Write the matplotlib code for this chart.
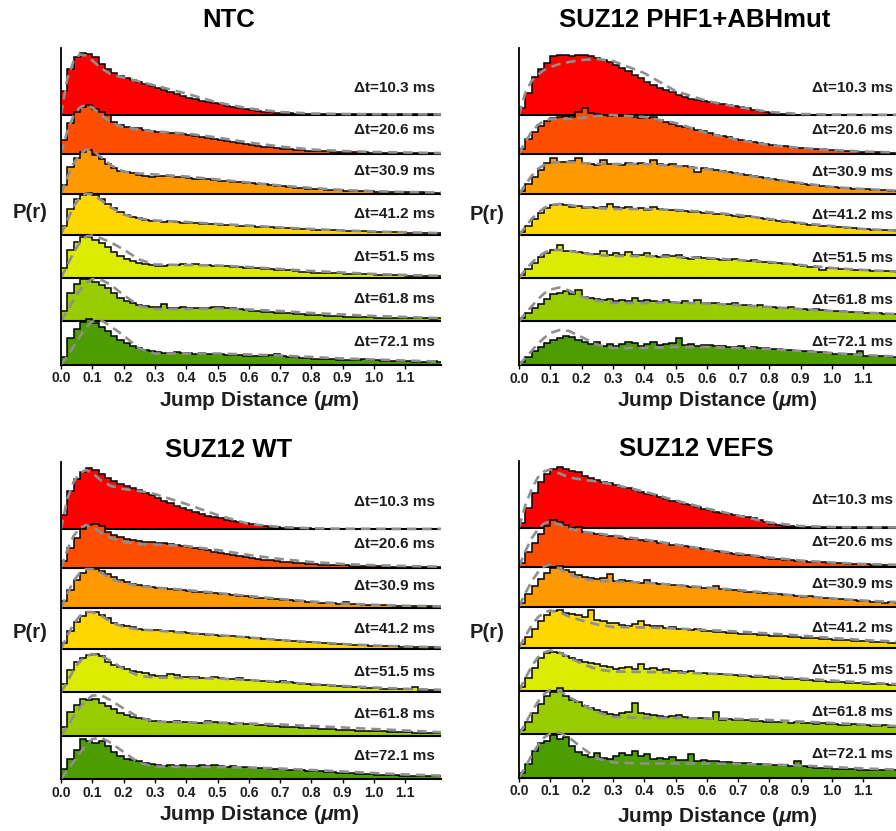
import numpy as np
import matplotlib
matplotlib.use('Agg')
import matplotlib.pyplot as plt

plt.rcParams['font.family'] = ['Liberation Sans', 'DejaVu Sans']
plt.rcParams['mathtext.fontset'] = 'custom'
plt.rcParams['mathtext.it'] = 'Liberation Sans:italic:bold'
plt.rcParams['mathtext.rm'] = 'Liberation Sans:bold'

# ---------------- data ----------------
TITLES = ['NTC', 'SUZ12 PHF1+ABHmut', 'SUZ12 WT', 'SUZ12 VEFS']
DT_LABELS = ['Δt=10.3 ms', 'Δt=20.6 ms', 'Δt=30.9 ms', 'Δt=41.2 ms',
             'Δt=51.5 ms', 'Δt=61.8 ms', 'Δt=72.1 ms']
XTICKS = [0.0, 0.1, 0.2, 0.3, 0.4, 0.5, 0.6, 0.7, 0.8, 0.9, 1.0, 1.1]
XTICK_LABELS = ['0.0', '0.1', '0.2', '0.3', '0.4', '0.5', '0.6', '0.7', '0.8', '0.9', '1.0', '1.1']
BIN_WIDTH = 0.02          # um, 63 bins from 0 to 1.26
FIT_X = [0, 0.02, 0.04, 0.06, 0.08, 0.1, 0.13, 0.16, 0.2, 0.25, 0.3,
         0.4, 0.5, 0.6, 0.7, 0.8, 0.9, 1.0, 1.1, 1.2, 1.26]

NTC_HIST = [
    [24,46,58,62,61,58,51,46,42,39, 37,35,33,31,29,27,25,23,21,19, 17,16,14,13,12,11,9,8,7,6,
     5,4,3,3,2,2,1.5,1,1,1, 0.5,0.5,0.5,0.5,0.5,0.5,0.5,0.5,0.5,0.5, 0.3,0.3,0.3,0.3,0.3,0.3,0.3,0.3,0.3,0.3, 0.3,0.3,0.3],
    [14,31,42,47,49,45,42,39,32,29, 27,26,26,24,23,22,22,21,21,20, 19,18,17,16,15,14,13,12,11,10,
     9,8,7,7,6,5,5,4,4,3, 3,2.5,2.5,2,2,2,1.5,1.5,1.5,1, 1,1,1,1,0.7,0.7,0.5,0.5,0.5,0.5, 0.3,0.3,0.3],
    [9,27,36,42,44,39,35,30,26,23, 22,21,19,18,17,18,18,18,17,17, 16,15,15,15,14,13,13,12,12,11,
     11,10,10,9,8,8,7,6,6,5, 5,4.5,4,3.5,3.5,3,3,2.7,2.5,2.3, 2,2,1.8,1.7,1.5,1.3,1.2,1.1,1,1, 0.9,0.8,0.8],
    [9,26,36,40,42,40,36,31,27,23, 20,18,17,15,14,14,13,14,13,12, 12,12,11,11,11,10,10,10,9,9,
     9,8,8,8,7,7,7,6,6,6, 5,5,5,4.5,4.5,4,4,3.5,3.5,3, 3,3,2.7,2.5,2.3,2,2,1.8,1.7,1.5, 1.4,1.3,1.2],
    [10,28,36,41,41,38,35,31,26,22, 19,17,15,14,13,12,12,13,13,14, 13,14,13,13,12,12,12,11,11,10,
     10,10,9,9,8,8,8,7,6,6, 5,5,5,4.5,4.5,4,4,4,3.5,3.5, 3,3,3,2.5,2.5,2,2,2,2,1.7, 1.5,1.5,1.5],
    [10,28,37,42,42,39,36,33,28,23, 20,18,16,15,14,14,17,13,13,14, 13,13,13,13,14,14,13,13,12,11,
     10,10,9,9,8,8,8,7,7,6, 6,6,5,5,5,4.5,4,4,4,4, 3.5,3.5,3.5,3,3,3,3,2.7,2.7,2.5, 3,2.5,2.5],
    [8,27,36,43,46,42,38,34,29,25, 22,19,17,15,14,13,12,12,13,12, 12,11,12,11,11,11,10,10,10,9,
     9,9,9,10,11,9,8,8,7,7, 6,6,6,6,5,5,5,5,6,5, 5,4,4,4,3.5,3.5,3,3,3,4, 3,3,3],
]
PHF1_HIST = [
    [7,22,38,46,52,59,60,60,59,60, 60,59,57,55,53,50,47,44,40,37, 33,30,27,25,23,20,18,16,15,14,
     13,12,11,10,9,8,7,5,4,3, 2,1.5,1,0.8,0.5,0.4,0.3,0.3,0.3,0.3, 0.2,0.2,0.2,0.2,0.2,0.2,0.2,0.2,0.2,0.2, 0.2,0.2,0.2],
    [5,15,22,28,33,36,37,38,37,42, 46,41,40,39,38,39,38,39,37,36, 36,37,34,32,30,28,27,26,24,23,
     21,19,18,17,15,14,13,12,11,10, 9,8,8,7,6,6,5,5,5,4, 4,3.5,3,3,2.5,2.3,2,1.8,1.5,1.3, 1.2,1,1],
    [3,10,17,24,31,36,32,32,33,36, 31,30,29,34,30,30,29,31,30,31, 30,34,30,29,30,28,28,27,22,26,
     25,24,23,22,21,20,19,18,17,16, 15,14,13,12,11,10,9,9,8,7, 7,6,6,5,5,4.5,4,4,3.5,3, 3,2.7,2.5],
    [3,9,16,22,27,30,31,30,28,29, 27,28,27,28,31,28,27,28,26,27, 25,28,26,25,25,24,24,23,23,22,
     22,21,21,20,19,18,19,18,17,16, 15,14,13,13,12,11,10,10,9,9, 8,8,7,7,6,6,5,5,5,4.5, 4,4,3.5],
    [3,9,15,21,25,28,33,27,27,26, 25,24,24,27,23,25,23,26,23,23, 25,22,21,23,22,23,20,19,21,20,
     19,19,18,18,19,18,17,18,16,16, 15,15,14,14,13,12,11,11,8,10, 10,9,9,8,8,8,7,7,7,7, 6,6,6],
    [3,8,13,17,22,27,28,30,27,31, 24,23,22,21,22,20,21,20,23,20, 21,20,19,21,19,18,20,18,21,18,
     18,18,17,17,18,16,16,15,16,14, 14,13,13,14,12,12,11,12,11,10, 10,10,9,9,9,8,8,8,7,7, 7,7,6],
    [3,8,14,18,22,25,27,29,28,25, 23,21,23,19,21,19,21,23,22,19, 21,23,20,21,22,27,20,21,19,20,
     20,19,19,18,18,19,17,18,17,17, 16,16,15,15,14,14,14,13,13,12, 11,11,11,11,14,9,9,9,9,8, 8,8,8],
]
WT_HIST = [
    [14,38,50,57,61,59,55,51,48,45, 43,41,39,36,34,31,28,26,23,21, 19,17,15,13,12,11,9,8,7,6,
     5,4,3,2.5,2,1.5,1,1,0.8,0.7, 0.5,0.5,0.5,0.4,0.4,0.3,0.3,0.3,0.3,0.3, 0.2,0.2,0.2,0.2,0.2,0.2,0.2,0.2,0.2,0.2, 0.2,0.2,0.2],
    [7,20,30,39,43,44,42,36,33,31, 29,28,27,26,26,25,25,24,23,22, 21,20,19,18,16,15,14,13,12,11,
     10,9,8,8,7,6,6,5,5,4.5, 4,3.5,3.5,3,3,2.7,2.5,2.3,2,2, 1.8,1.7,1.5,1.4,1.3,1.2,1.1,1,1,0.9, 0.8,0.8,0.7],
    [7,18,28,35,39,39,37,34,31,28, 26,24,23,22,21,20,20,19,18,18, 17,16,16,15,15,14,14,13,12,12,
     11,10,10,9,9,8,8,7,7,6, 6,5.5,5,5,4.5,6,4,3.7,3.5,3.3, 3,2.8,2.6,2.5,2.3,2.2,2,2,1.8,1.7, 1.6,1.5,1.5],
    [6,18,27,33,37,37,34,31,26,24, 23,22,20,19,19,19,18,18,17,17, 16,15,15,14,14,13,13,13,12,12,
     11,11,10,10,9,9,8,8,7,7, 7,6,6,5,5,5,4.5,4,4,3.5, 3.3,3,3,2.7,2.5,2.3,2.2,2,2,1.8, 1.7,1.6,1.5],
    [8,22,30,34,37,38,36,30,27,25, 23,21,20,19,17,16,16,18,17,15, 15,15,14,14,15,14,13,13,14,12,
     12,11,11,10,10,11,10,9,8,8, 7,7,7,6,6,5,5,5,4.5,4, 4,3.5,3.5,3,3,3,5,2.5,2.5,2, 2,2,2],
    [9,24,31,37,36,37,33,30,27,23, 21,19,18,17,15,15,14,14,15,14, 14,13,13,15,14,13,13,12,13,12,
     12,11,11,10,10,9,9,9,8,8, 8,7,7,7,6,6,6,5,5,5, 4.5,4.5,4,4,3.5,3.5,3,3,3,3, 2.7,2.5,2.5],
    [10,20,29,40,38,36,38,33,27,23, 20,19,18,16,15,14,13,14,13,14, 13,13,14,13,14,13,12,13,12,12,
     11,11,11,10,10,10,9,9,9,8, 8,8,7,7,6,6,6,5,5,5, 4.5,4.5,4,4,3.5,3.5,3.5,3,3,3.5, 3,3,3],
]
VEFS_HIST = [
    [5,20,35,46,54,59,61,59,57,56, 52,50,48,46,45,43,41,40,38,36, 34,33,31,29,27,26,24,23,21,19,
     18,16,15,14,13,12,11,10,8,6, 4,3,2,1.5,1,0.8,0.6,0.5,0.4,0.3, 0.3,0.2,0.2,0.2,0.2,0.2,0.2,0.2,0.2,0.2, 0.2,0.2,0.2],
    [4,15,24,33,41,47,45,42,39,40, 35,34,33,32,31,31,29,28,28,27, 26,26,24,24,22,22,21,20,19,18,
     17,16,15,14,13,12,12,11,10,9, 8,8,7,7,6,6,5,5,4.5,4, 4,3.5,3,2.5,2.3,2.2,2,2,2,2, 1.8,1.7,1.6],
    [4,13,21,28,34,39,41,37,35,32, 30,29,28,29,33,26,27,26,25,24, 27,24,23,23,22,22,21,20,20,19,
     19,21,18,17,17,16,15,15,14,14, 13,13,12,12,11,10,11,10,9,9, 8,8,7,7,6,6,5,5,3.5,5, 4,4,3.5],
    [4,11,19,27,33,37,38,35,34,33, 31,38,28,27,25,25,23,22,24,27, 23,22,22,20,21,19,19,18,19,17,
     17,16,16,15,15,14,14,14,13,13, 12,12,12,11,11,10,10,10,9,9, 8,8,8,7,7,7,6,6,6,5, 5,5,5],
    [4,13,23,33,38,39,38,35,33,31, 29,28,27,25,24,22,23,24,22,27, 22,23,21,22,20,20,19,20,18,18,
     17,17,17,16,16,15,15,14,14,14, 13,13,12,12,12,11,11,10,10,9, 9,9,8,8,8,7,7,7,7,6, 6,6,6],
    [4,12,21,30,38,42,46,38,34,32, 28,26,24,22,20,19,21,22,31,21, 20,19,18,17,18,19,17,16,16,16,
     15,22,14,15,14,14,14,13,13,12, 12,12,13,11,12,11,11,10,11,10, 10,9,9,10,9,9,8,8,9,7, 8,7,7],
    [5,14,27,35,37,43,39,41,32,26, 23,21,25,20,19,22,25,23,27,22, 24,19,20,19,21,18,18,24,17,18,
     17,17,16,16,15,15,15,14,14,14, 13,13,13,12,17,12,11,10,10,10, 9,9,9,9,8,8,8,8,8,8, 8,8,8],
]

NTC_FIT = [
    [0,36,53,60,59,54,46,40,37,33,29,21,12,6,2.5,1,0.5,0.3,0.2,0.1,0.1],
    [0,22,38,46,49,46,38,31,26,24,22,20,16,11,7,4,2.5,1.5,1,0.5,0.4],
    [0,16,30,39,44,43,36,28,22,20,19,17,14,11,8,5.5,3.5,2.3,1.5,1,0.8],
    [0,14,28,37,41,40,34,27,20,16,14,12.5,10.5,9,7,5.5,4,3,2.2,1.5,1.2],
    [0,12,25,35,41,42,39,35,28,18,13,12.5,12,10.5,8.5,6.5,5,3.5,2.5,1.8,1.5],
    [0,10,21,31,38,42,41,36,26,15,12,12,12.5,11.5,10,8,6.5,5,4,3,2.5],
    [0,8,18,28,37,43,44,38,29,16,11,11,11,10,9,7.5,6,5,4,3,2.5],
]
PHF1_FIT = [
    [0,22,34,40,45,48,51,53,55,56,54,42,24,14,8,3,1,0.4,0.2,0.1,0.1],
    [0,12,22,29,33,35,35,35,36,38,39,37,31,21,14,9,6,4,2.5,1.5,1.2],
    [0,9,18,25,29,31,32,32,31,30,30,30,28,25,20,15,11,7,5,3.5,3],
    [0,8,16,22,27,30,31,30,28,27,26,26,25,23,20,16,12,9,6,4.5,4],
    [0,8,15,21,25,28,28,27,25,23,22,22,21,20,18,16,13,10,8,6.5,6],
    [0,8,15,22,28,32,34,31,25,21,18.5,18.5,19,18,16.5,14.5,12.5,10.5,9,7.5,7],
    [0,7,14,21,27,32,35,34,28,20,17,17,18,18,17,16,14,12,10,8.5,8],
]
WT_FIT = [
    [0,30,47,56,59,56,48,43,40,38,35,25,14,5,2,0.7,0.3,0.2,0.1,0.1,0.1],
    [0,18,32,40,43,41,35,30,26,24,23.5,22,18,13,9,6,4,2.8,2,1.4,1.2],
    [0,14,27,35,39,39,35,29,25,22,20.5,18,15,12,9,6.5,4.5,3.2,2.3,1.7,1.5],
    [0,13,25,33,37,37,33,27,22,19.5,18.5,16,14,11.5,9,7,5,3.5,2.5,1.8,1.5],
    [0,10,22,31,36,38,36,31,23,16,14.5,14,13.5,12,10,8,6,4.5,3.2,2.3,2],
    [0,9,19,28,35,40,40,35,27,18,14,13,13,12,11,9.5,8,6.5,5,3.5,3],
    [0,8,17,26,34,40,41,36,27,16,12.5,12,12,11.5,10.5,9,7.5,6,4.5,3.5,3],
]
VEFS_FIT = [
    [0,22,38,50,56,58,54,50,48,46,43,36,27,19,12,5,1.5,0.5,0.2,0.1,0.1],
    [0,15,28,37,43,45,42,38,35,33,31,27,22,17,13,9,6,4,2.5,1.8,1.5],
    [0,13,25,34,40,42,38,32,28,25.5,25,24,21.5,19,16.5,13.5,10.5,8,6,4.5,4],
    [0,11,22,30,35,37,35,31,27,23,20.5,20,19,17.5,16,14,12,9.5,7.5,6,5.5],
    [0,12,24,33,38,40,38,33,27,21,19,18.5,18,17,15.5,14,12,10,8,6.5,6],
    [0,10,22,32,40,44,43,37,30,22,17,16,16,15.5,15,14,12.5,11,9.5,8,7.5],
    [0,10,22,32,40,44,45,40,30,19,15,14,14,14,13.5,13,12,10.5,9,8,7.5],
]

ROW_COLORS = ['#ff0000', '#ff4d00', '#ff9900', '#ffd700', '#dbec00', '#99cc00', '#4d9c00']

# ---------------- layout (pixels) ----------------
W, H = 896, 831
PX_PER_UM = 313.0
AX_W = 380.0
AX_H = 317.0
ROW_BASE = [250, 211, 171, 130, 87, 43.5, 0]
LABEL_DY = [27, 24, 22.5, 20, 20.5, 22, 23]

PANELS = [
    dict(title=TITLES[0], hist=NTC_HIST, fit=NTC_FIT, x0=61, ybot=364.5,
         tx=229, ty=20, px=30, py=213, lx=259, ly=400),
    dict(title=TITLES[1], hist=PHF1_HIST, fit=PHF1_FIT, x0=519, ybot=365,
         tx=695, ty=20, px=487, py=214, lx=717, ly=401),
    dict(title=TITLES[2], hist=WT_HIST, fit=WT_FIT, x0=61, ybot=779,
         tx=229, ty=450, px=30, py=633, lx=259, ly=815),
    dict(title=TITLES[3], hist=VEFS_HIST, fit=VEFS_FIT, x0=519, ybot=777.5,
         tx=696, ty=449, px=487, py=632, lx=717, ly=816),
]

fig = plt.figure(figsize=(W / 100, H / 100), dpi=100)
TXT = '#1e1e1e'

for p in PANELS:
    ax = fig.add_axes([p['x0'] / W, (H - p['ybot']) / H, AX_W / W, AX_H / H])
    ax.set_xlim(0, AX_W / PX_PER_UM)
    ax.set_ylim(0, AX_H)
    for k in range(7):
        vals = np.asarray(p['hist'][k], dtype=float)
        edges = np.arange(len(vals) + 1) * BIN_WIDTH
        base = ROW_BASE[k]
        z = 3 * k + 2
        ax.stairs(base + vals, edges, baseline=base, fill=True,
                  color=ROW_COLORS[k], lw=0, zorder=z)
        ax.stairs(base + vals, edges, baseline=None, color='black',
                  lw=1.1, zorder=z + 0.5)
        ax.axhline(base, color='black', lw=1.5, zorder=z + 0.6)
        ax.plot(FIT_X, base + np.asarray(p['fit'][k]), color='#8f8f8f',
                lw=1.9, dashes=(3.6, 2.2), zorder=z + 0.8,
                solid_capstyle='butt', dash_capstyle='butt')
        ax.text(1.195, base + LABEL_DY[k], DT_LABELS[k], ha='right', va='center',
                fontsize=11, fontweight='bold', color=TXT, zorder=40)
    for s in ['top', 'right']:
        ax.spines[s].set_visible(False)
    ax.spines['left'].set_linewidth(1.3)
    ax.spines['bottom'].set_linewidth(1.5)
    ax.spines['left'].set_zorder(50)
    ax.set_yticks([])
    ax.set_xticks(XTICKS)
    ax.set_xticklabels(XTICK_LABELS, fontsize=10, fontweight='bold', color=TXT)
    ax.tick_params(axis='x', length=3, width=1, pad=2, color='black')
    ax.patch.set_alpha(0)

    fig.text(p['tx'] / W, 1 - p['ty'] / H, p['title'], ha='center', va='center',
             fontsize=18.5, fontweight='bold', color='black')
    fig.text(p['px'] / W, 1 - p['py'] / H, 'P(r)', ha='center', va='center',
             fontsize=14.5, fontweight='bold', color=TXT)
    fig.text(p['lx'] / W, 1 - p['ly'] / H, r'Jump Distance ($\mu$m)', ha='center',
             va='center', fontsize=15, fontweight='bold', color=TXT)

fig.savefig('out.png', dpi=100)
